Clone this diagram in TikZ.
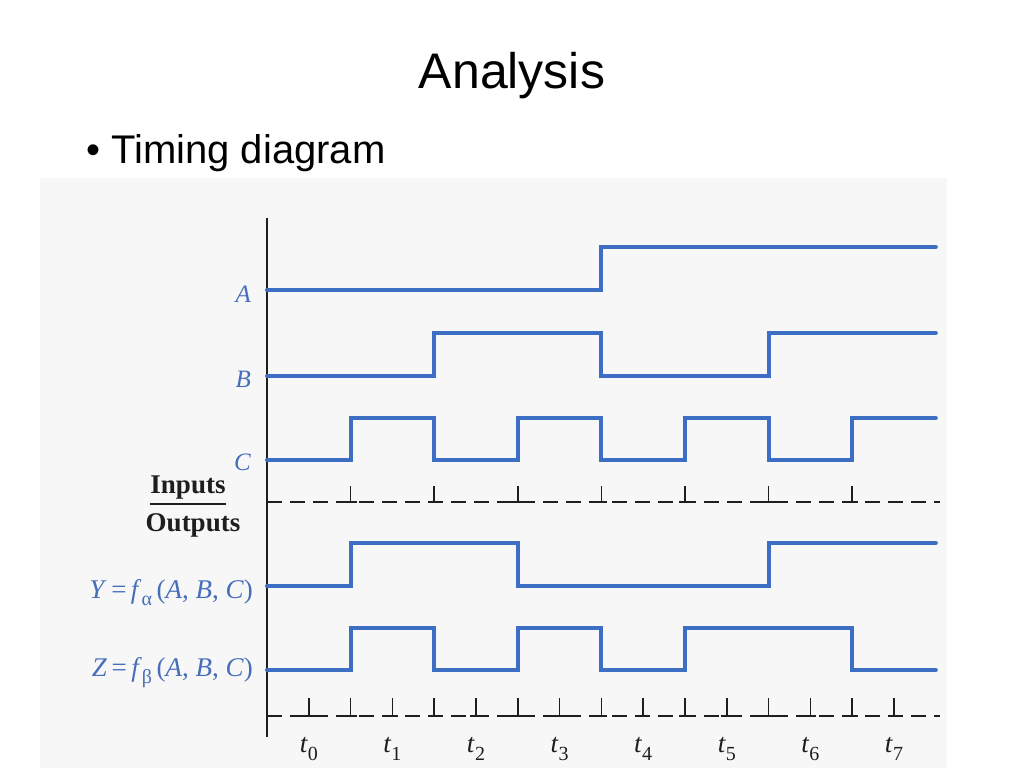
\documentclass[tikz,border=0pt]{standalone}
\usepackage{fontspec}
\setmainfont{Liberation Serif}
\newfontfamily\slidesans{Liberation Sans}
\definecolor{sigblue}{RGB}{60,110,196}
\definecolor{txtblue}{RGB}{70,110,185}
\definecolor{scanbg}{RGB}{247,247,248}
\definecolor{inkdark}{RGB}{30,30,30}
\tikzset{
  wave/.style={draw=sigblue, line width=4pt, line cap=round, line join=miter},
  sepline/.style={draw=inkdark, line width=2pt, dash pattern=on 15pt off 8pt},
  tickmark/.style={draw=inkdark, line width=1.6pt},
  siglabel/.style={anchor=base east, inner sep=0pt, text=txtblue, font=\fontsize{25}{29}\selectfont\itshape},
  funlabel/.style={anchor=base east, inner sep=0pt, text=txtblue, font=\fontsize{27}{31}\selectfont},
  iolabel/.style={anchor=base, inner sep=0pt, text=inkdark, font=\fontsize{27}{31}\selectfont\bfseries},
  tlabel/.style={anchor=base, inner sep=0pt, text=inkdark, font=\fontsize{27}{31}\selectfont},
}
\newcommand{\tsub}[1]{\textit{t}\raisebox{-0.3em}{\fontsize{20}{22}\selectfont #1}}
\newcommand{\fsub}[1]{\textit{f}\raisebox{-0.28em}{\fontsize{20}{22}\selectfont #1}}
\begin{document}
\begin{tikzpicture}[x=1pt,y=-1pt]
\useasboundingbox (0,0) rectangle (1024,768);
\fill[white] (0,0) rectangle (1024,768);
% scanned figure background
\fill[scanbg] (40,178) rectangle (947,768);
% title and bullet
\node[anchor=base, inner sep=0pt, font=\slidesans\fontsize{50}{56}\selectfont] (title) at (512,88) {Analysis};
\node[anchor=base west, inner sep=0pt, font=\slidesans\fontsize{40}{45}\selectfont] (bullet) at (86,163) {• Timing diagram};
% axis
\coordinate (axtop) at (267,218);
\coordinate (axbot) at (267,737);
\draw[draw=inkdark, line width=2pt] (axtop) -- (axbot);
% waveforms
\begin{scope}[shift={(267pt,0pt)}, x=83.6pt]
  \draw[wave] (0,290) -| (4,247) -- (8,247);
  \draw[wave] (0,376) -| (2,333) -| (4,376) -| (6,333) -- (8,333);
  \draw[wave] (0,460) -| (1,418) -| (2,460) -| (3,418) -| (4,460) -| (5,418) -| (6,460) -| (7,418) -- (8,418);
  \draw[wave] (0,586) -| (1,543) -| (3,586) -| (6,543) -- (8,543);
  \draw[wave] (0,670) -| (1,628) -| (2,670) -| (3,628) -| (4,670) -| (5,628) -| (7,670) -- (8,670);
  % separator lines
  \draw[sepline] (0,502) -- (8.05,502);
  \draw[sepline] (0,716) -- (8.05,716);
  \foreach \k in {1,...,7} {
    \draw[tickmark] (\k,502) -- (\k,486);
    \draw[tickmark] ([xshift=-6pt]\k,502) -- ([xshift=6pt]\k,502);
  }
  \foreach \j in {1,...,15} {
    \draw[tickmark] (\j/2,716) -- (\j/2,698);
    \draw[tickmark] ([xshift=-6pt]\j/2,716) -- ([xshift=6pt]\j/2,716);
  }
  \foreach \i in {0,...,7} {
    \node[tlabel] (t\i) at ({\i+0.5},752) {\tsub{\i}};
  }
\end{scope}
% signal labels
\node[siglabel] (labA) at (251,302) {A};
\node[siglabel] (labB) at (251,387) {B};
\node[siglabel] (labC) at (251,470) {C};
\node[iolabel] (inputs) at (188,493) {Inputs};
\draw[draw=inkdark, line width=1.3pt] (150,504) -- (226,504);
\node[iolabel] (outputs) at (193,531) {Outputs};
\node[funlabel] (labY) at (253,598) {\textit{Y}\,=\,\fsub{α}\,(\textit{A}, \textit{B}, \textit{C})};
\node[funlabel] (labZ) at (253,676) {\textit{Z}\,=\,\fsub{β}\,(\textit{A}, \textit{B}, \textit{C})};
\end{tikzpicture}
\end{document}
